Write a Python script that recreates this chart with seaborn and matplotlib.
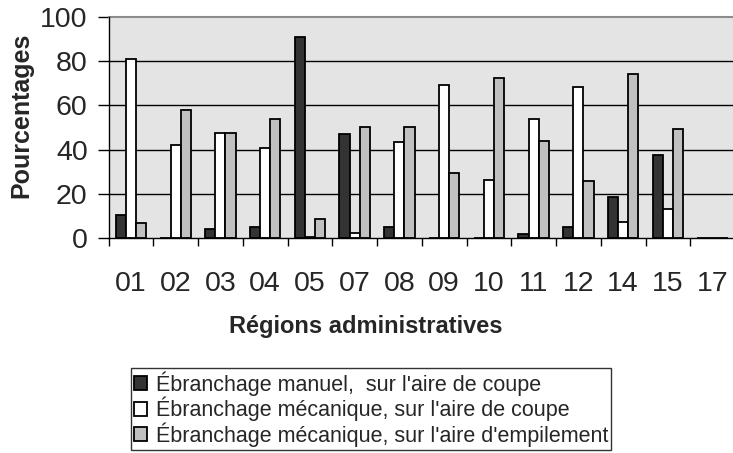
import matplotlib
matplotlib.use("Agg")
import matplotlib.pyplot as plt
import seaborn as sns
import pandas as pd
from matplotlib.ticker import FixedLocator

regions = ["01", "02", "03", "04", "05", "07", "08", "09", "10", "11", "12", "14", "15", "17"]
series_names = [
    "Ébranchage manuel,  sur l'aire de coupe",
    "Ébranchage mécanique, sur l'aire de coupe",
    "Ébranchage mécanique, sur l'aire d'empilement",
]
manuel_coupe = [10.4, 0, 3.9, 5.1, 90.8, 46.9, 5.1, 0, 0, 1.7, 5.1, 18.4, 37.6, 0]
meca_coupe = [81, 42.2, 47.4, 40.6, 0.5, 2.4, 43.3, 69.2, 26.4, 53.8, 68.2, 7.1, 13, 0]
meca_empil = [6.6, 57.9, 47.4, 53.8, 8.5, 50.2, 50.2, 29.4, 72.3, 43.9, 25.9, 74, 49.2, 0]
colors = ["#333333", "#ffffff", "#c0c0c0"]

rows = []
for name, vals in zip(series_names, [manuel_coupe, meca_coupe, meca_empil]):
    for r, v in zip(regions, vals):
        rows.append({"Région": r, "Valeur": v, "Série": name})
df = pd.DataFrame(rows)

sns.set_theme(style="white")
plt.rcParams["font.family"] = ["Liberation Sans", "DejaVu Sans"]

W, H = 733, 453
fig = plt.figure(figsize=(W / 100, H / 100), dpi=100)
left_px, right_px, top_px, bot_px = 108.5, 735.0, 17.0, 238.0
ax = fig.add_axes([left_px / W, 1 - bot_px / H, (right_px - left_px) / W, (bot_px - top_px) / H])
ax.set_facecolor("#e4e4e4")

sns.barplot(data=df, x="Région", y="Valeur", hue="Série", order=regions,
            hue_order=series_names, palette=colors, edgecolor="black",
            linewidth=1.3, width=0.68, gap=0, ax=ax, legend=True, zorder=3)

ax.set_ylim(0, 100)
ax.set_xlim(-0.5, len(regions) - 0.5)
ax.set_yticks([0, 20, 40, 60, 80, 100])
for y in [20, 40, 60, 80]:
    ax.axhline(y, color="black", lw=1.0, zorder=1)

ax.spines["right"].set_visible(False)
ax.spines["top"].set_color("#8c8c8c")
ax.spines["top"].set_linewidth(1.5)
for s in ["left", "bottom"]:
    ax.spines[s].set_color("black")
    ax.spines[s].set_linewidth(1.0)
    ax.spines[s].set_zorder(5)

ax.tick_params(axis="y", which="major", direction="out", length=8, width=1,
               color="black", labelsize=20.5, pad=7, left=True)
ax.tick_params(axis="x", which="major", length=0, labelsize=20.5, pad=24)
ax.xaxis.set_minor_locator(FixedLocator([i - 0.5 for i in range(len(regions) + 1)]))
ax.tick_params(axis="x", which="minor", direction="out", length=6, width=1,
               color="black", bottom=True)

ax.set_ylabel("")
ax.set_xlabel("")
fig.text(21 / W, 1 - 115 / H, "Pourcentages", rotation=90, fontsize=18,
         fontweight="bold", ha="center", va="center")
fig.text(229 / W, 1 - 315 / H, "Régions administratives", fontsize=17,
         fontweight="bold", ha="left", va="top")

leg = ax.legend(loc="upper left", bbox_to_anchor=(131 / W, 1 - 368 / H),
                bbox_transform=fig.transFigure, fontsize=15.5, frameon=True,
                fancybox=False, edgecolor="black", handlelength=0.6,
                handleheight=0.6, handletextpad=0.4, borderpad=0.15,
                labelspacing=0.05, borderaxespad=0)
leg.get_frame().set_linewidth(1.0)
for h in leg.legend_handles:
    h.set_edgecolor("black")
    h.set_linewidth(1.3)

fig.savefig("out.png", dpi=100)
